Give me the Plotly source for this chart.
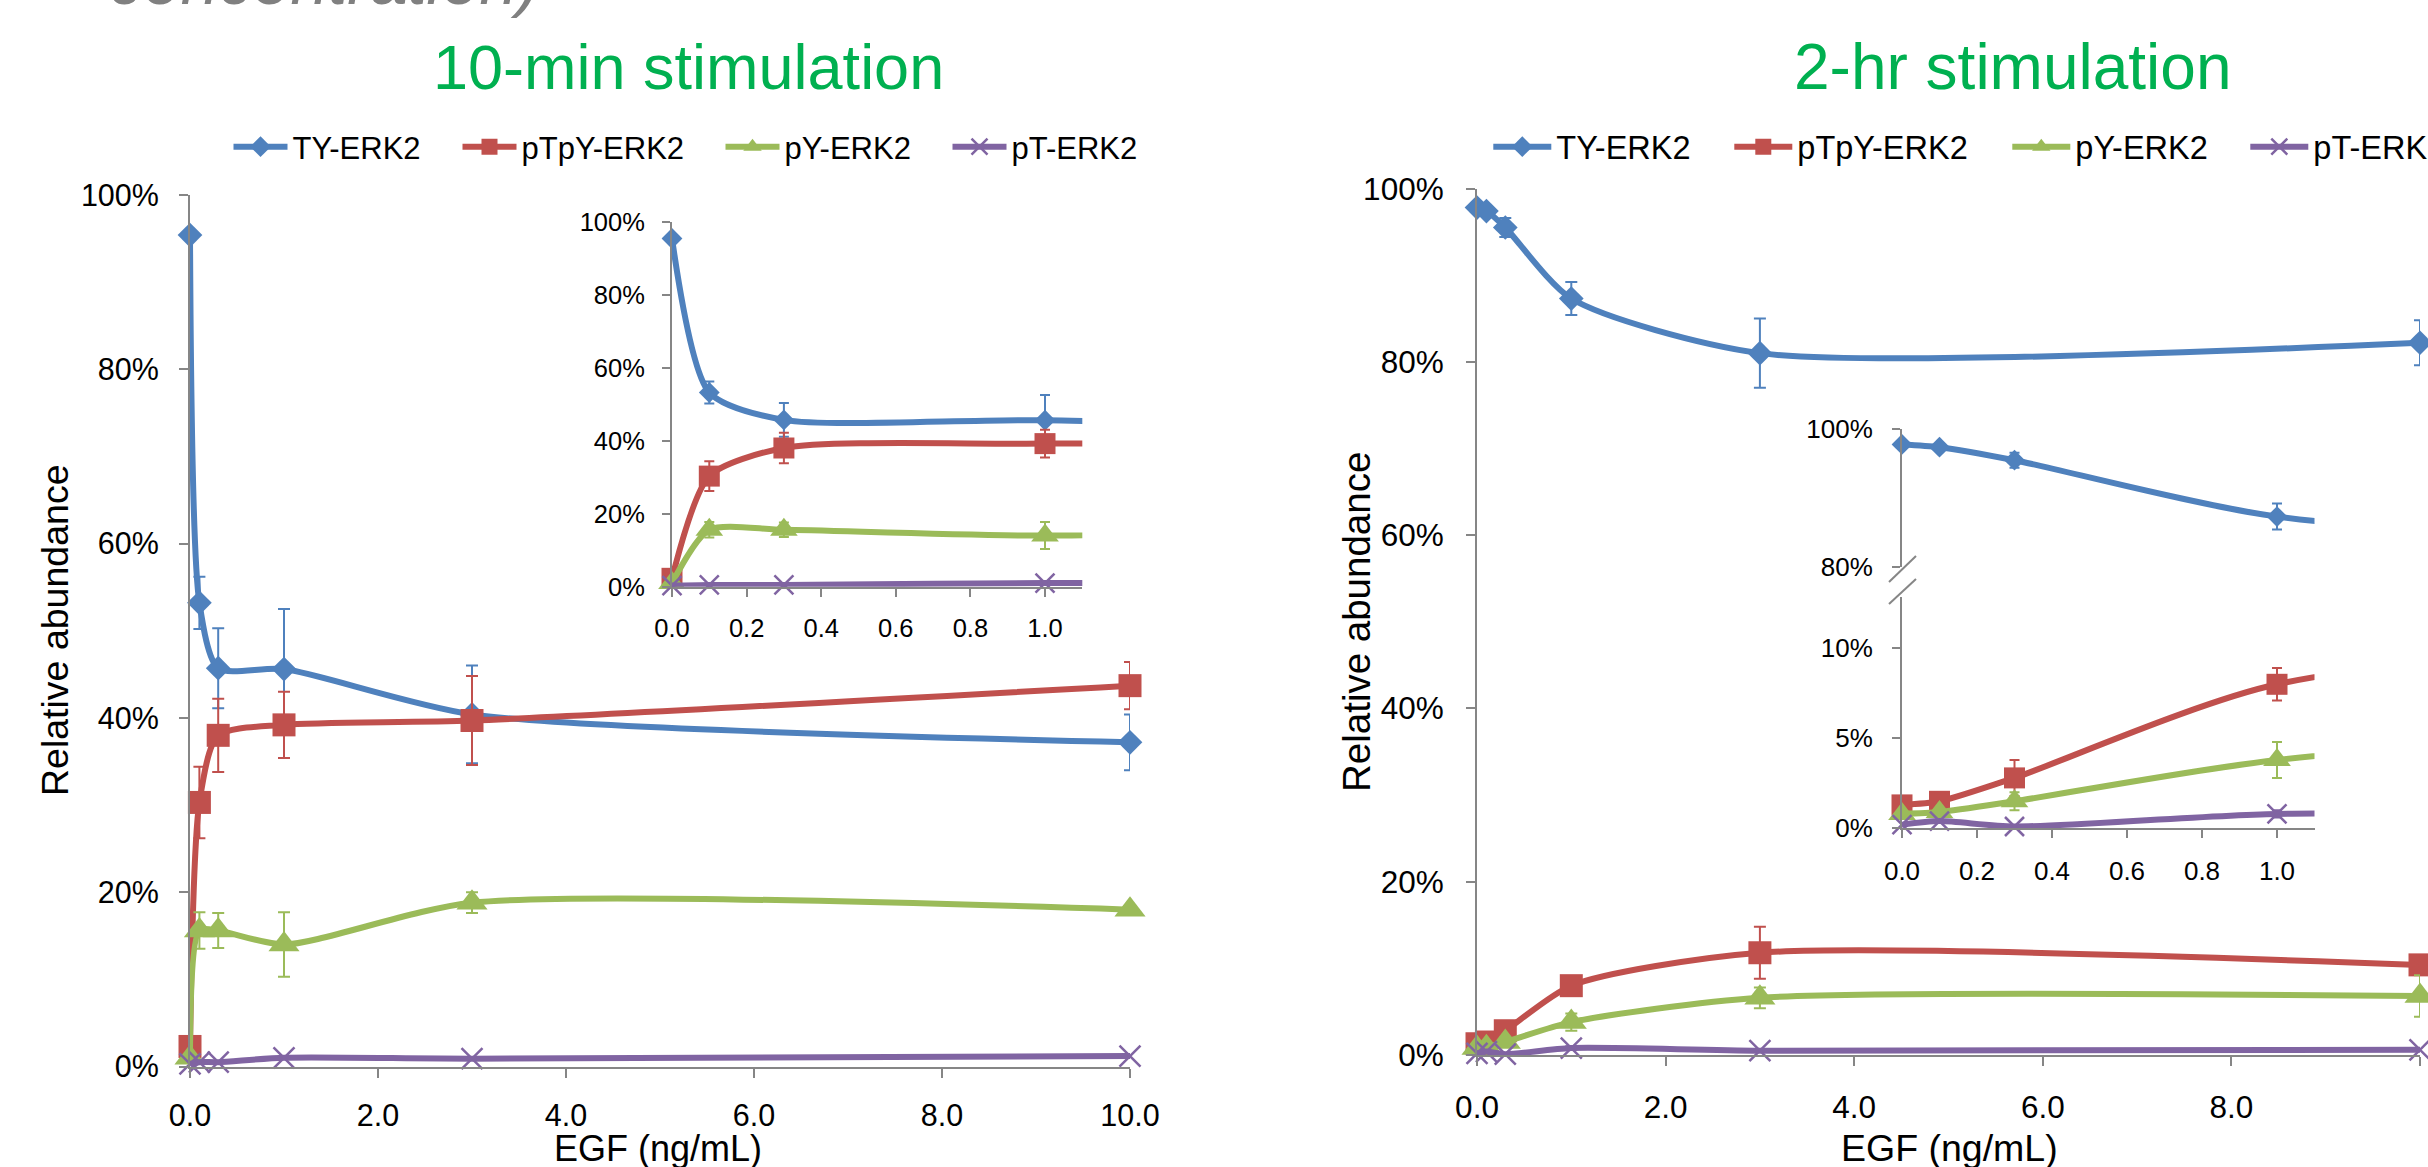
import plotly.graph_objects as go

W, H = 2428, 1167

# ---------------- data ----------------
dose = [0, 0.1, 0.3, 1, 3, 10]
series_names = ["TY-ERK2", "pTpY-ERK2", "pY-ERK2", "pT-ERK2"]

# 10-min stimulation (fraction of total)
ty_10min = [0.954, 0.532, 0.457, 0.456, 0.404, 0.372]
ty_10min_err = [0.0, 0.030, 0.046, 0.069, 0.056, 0.032]
ptpy_10min = [0.023, 0.303, 0.380, 0.392, 0.397, 0.437]
ptpy_10min_err = [0.0, 0.041, 0.042, 0.038, 0.051, 0.027]
py_10min = [0.010, 0.156, 0.156, 0.140, 0.188, 0.180]
py_10min_err = [0.0, 0.021, 0.020, 0.037, 0.012, 0.004]
pt_10min = [0.003, 0.005, 0.005, 0.010, 0.009, 0.012]
pt_10min_err = [0.0, 0.0, 0.0, 0.0, 0.0, 0.0]

# 2-hr stimulation
ty_2hr = [0.978, 0.974, 0.955, 0.873, 0.810, 0.822]
ty_2hr_err = [0.004, 0.004, 0.011, 0.019, 0.040, 0.026]
ptpy_2hr = [0.013, 0.015, 0.028, 0.080, 0.118, 0.104]
ptpy_2hr_err = [0.0, 0.0, 0.010, 0.009, 0.030, 0.005]
py_2hr = [0.008, 0.009, 0.015, 0.038, 0.066, 0.068]
py_2hr_err = [0.0, 0.0, 0.005, 0.010, 0.012, 0.024]
pt_2hr = [0.002, 0.004, 0.001, 0.008, 0.005, 0.006]
pt_2hr_err = [0.0, 0.0, 0.0, 0.002, 0.0, 0.0]

x_ticks_main = [0, 2, 4, 6, 8, 10]
x_ticks_inset = [0, 0.2, 0.4, 0.6, 0.8, 1.0]
y_ticks_main = [0, 0.2, 0.4, 0.6, 0.8, 1.0]
y_ticks_inset_low = [0, 0.05, 0.10]
y_ticks_inset_high = [0.8, 1.0]

# ---------------- styles ----------------
colors = ["#4F81BD", "#C0504D", "#9BBB59", "#8064A2"]
symbols = ["diamond", "square", "triangle-up", "x-thin"]
msize_main = [19, 23, 27, 21]
msize_inset = [16, 21, 24, 19]
SMOOTH = 0.7
FONT = "Liberation Sans, Arial, sans-serif"
AXIS_COLOR = "#868686"

vals10 = [ty_10min, ptpy_10min, py_10min, pt_10min]
errs10 = [ty_10min_err, ptpy_10min_err, py_10min_err, pt_10min_err]
vals2h = [ty_2hr, ptpy_2hr, py_2hr, pt_2hr]
errs2h = [ty_2hr_err, ptpy_2hr_err, py_2hr_err, pt_2hr_err]


def px(x):
    return x / W


def py(y):
    return 1 - y / H


def marker(i, size):
    return dict(symbol=symbols[i], size=size, color=colors[i],
                line=dict(color=colors[i], width=2.5 if i == 3 else 0))


fig = go.Figure()

legend_w_left = [160, 194, 158, 158]
legend_w_right = [168, 205, 165, 165]

# main plots
for vals, errs, xa, ya, leg, lw in [
    (vals10, errs10, "x", "y", "legend", legend_w_left),
    (vals2h, errs2h, "x3", "y3", "legend2", legend_w_right),
]:
    for i in range(4):
        fig.add_trace(go.Scatter(
            x=dose, y=vals[i], name=series_names[i], mode="lines+markers",
            line=dict(color=colors[i], width=6, shape="spline", smoothing=SMOOTH),
            marker=marker(i, msize_main[i]),
            error_y=dict(type="data", array=errs[i], color=colors[i], thickness=2, width=6),
            xaxis=xa, yaxis=ya, legend=leg, legendwidth=lw[i], cliponaxis=False,
            hoverinfo="skip",
        ))


def add_inset(vals, errs, i, xa, ya):
    # smoothed line through all points, clipped to the inset range
    fig.add_trace(go.Scatter(
        x=dose, y=vals[i], mode="lines", showlegend=False,
        line=dict(color=colors[i], width=6, shape="spline", smoothing=SMOOTH),
        xaxis=xa, yaxis=ya, hoverinfo="skip",
    ))
    keep = [k for k, d in enumerate(dose) if d <= 1.1]
    fig.add_trace(go.Scatter(
        x=[dose[k] for k in keep], y=[vals[i][k] for k in keep], mode="markers",
        showlegend=False, marker=marker(i, msize_inset[i]),
        error_y=dict(type="data", array=[errs[i][k] for k in keep], color=colors[i],
                     thickness=2, width=5),
        xaxis=xa, yaxis=ya, cliponaxis=False, hoverinfo="skip",
    ))


for i in range(4):
    add_inset(vals10, errs10, i, "x2", "y2")
add_inset(vals2h, errs2h, 0, "x5", "y5")
for i in range(1, 4):
    add_inset(vals2h, errs2h, i, "x4", "y4")


def axis(domain, rng, tickvals, fmt, size, anchor, standoff, visible=True, ticklen=9):
    return dict(domain=domain, range=rng, tickvals=tickvals, tickformat=fmt,
                showline=True, linecolor=AXIS_COLOR, linewidth=2, ticks="outside",
                tickcolor=AXIS_COLOR, tickwidth=2, ticklen=ticklen, showgrid=False,
                zeroline=False, anchor=anchor, visible=visible,
                tickfont=dict(family=FONT, size=size, color="black"),
                ticklabelstandoff=standoff, fixedrange=True)


layout = dict(
    width=W, height=H, autosize=False,
    margin=dict(l=0, r=0, t=0, b=0, pad=0, autoexpand=False),
    paper_bgcolor="white", plot_bgcolor="rgba(0,0,0,0)",
    template="none", font=dict(family=FONT, color="black"),
    # left main
    xaxis=axis([px(190), px(1130)], [0, 10], x_ticks_main, ".1f", 30.5, "y", 12),
    yaxis=axis([py(1066.5), py(195)], [0, 1], y_ticks_main, ".0%", 30.5, "x", 14),
    # left inset
    xaxis2=axis([px(672), px(1082.3)], [0, 1.1], x_ticks_inset, ".1f", 25.5, "y2", 10, ticklen=8),
    yaxis2=axis([py(586.7), py(221.7)], [0, 1], y_ticks_main, ".0%", 25.5, "x2", 12, ticklen=8),
    # right main
    xaxis3=axis([px(1477), px(2420)], [0, 10], x_ticks_main, ".1f", 31.5, "y3", 14),
    yaxis3=axis([py(1055), py(188.5)], [0, 1], y_ticks_main, ".0%", 31.5, "x3", 16),
    # right inset lower
    xaxis4=axis([px(1902), px(2314.5)], [0, 1.1], x_ticks_inset, ".1f", 26, "y4", 10, ticklen=8),
    yaxis4=axis([py(828.3), py(597)], [0, 0.1285], y_ticks_inset_low, ".0%", 26, "x4", 14, ticklen=8),
    # right inset upper
    xaxis5=axis([px(1902), px(2314.5)], [0, 1.1], x_ticks_inset, ".1f", 26, "y5", 10, visible=False),
    yaxis5=axis([py(566.7), py(429.3)], [0.8, 1.0], y_ticks_inset_high, ".0%", 26, "x5", 14, ticklen=8),
    legend=dict(orientation="h", x=px(228.5), xanchor="left", y=py(147), yanchor="middle",
                font=dict(family=FONT, size=31, color="black"), itemwidth=54,
                bgcolor="rgba(0,0,0,0)", borderwidth=0, itemclick=False, itemdoubleclick=False),
    legend2=dict(orientation="h", x=px(1488.3), xanchor="left", y=py(147), yanchor="middle",
                 font=dict(family=FONT, size=32.5, color="black"), itemwidth=58,
                 bgcolor="rgba(0,0,0,0)", borderwidth=0, itemclick=False, itemdoubleclick=False),
)
fig.update_layout(**layout)

annotations = [
    dict(text="concentration)", x=px(324), y=py(-20), font=dict(size=68, color="#808080", style="italic")),
    dict(text="10-min stimulation", x=px(688.5), y=py(67), font=dict(size=63, color="#00B050")),
    dict(text="2-hr stimulation", x=px(2012.6), y=py(67), font=dict(size=64, color="#00B050")),
    dict(text="Relative abundance", x=px(55), y=py(630), textangle=-90, font=dict(size=37.5, color="black")),
    dict(text="Relative abundance", x=px(1356), y=py(622), textangle=-90, font=dict(size=38.5, color="black")),
    dict(text="EGF (ng/mL)", x=px(658), y=py(1148), font=dict(size=36, color="black")),
    dict(text="EGF (ng/mL)", x=px(1949), y=py(1148), font=dict(size=37.5, color="black")),
]
for a in annotations:
    a.update(xref="paper", yref="paper", showarrow=False, xanchor="center", yanchor="middle")
    a["font"]["family"] = FONT
fig.update_layout(annotations=annotations)

# axis-break marks on the right inset
shapes = []
for (x0, y0, x1, y1) in [(1889, 582, 1916, 556), (1889, 604, 1916, 579)]:
    shapes.append(dict(type="line", xref="paper", yref="paper", x0=px(x0), y0=py(y0),
                       x1=px(x1), y1=py(y1), line=dict(color=AXIS_COLOR, width=2)))
fig.update_layout(shapes=shapes)

fig.write_html("out.html")
